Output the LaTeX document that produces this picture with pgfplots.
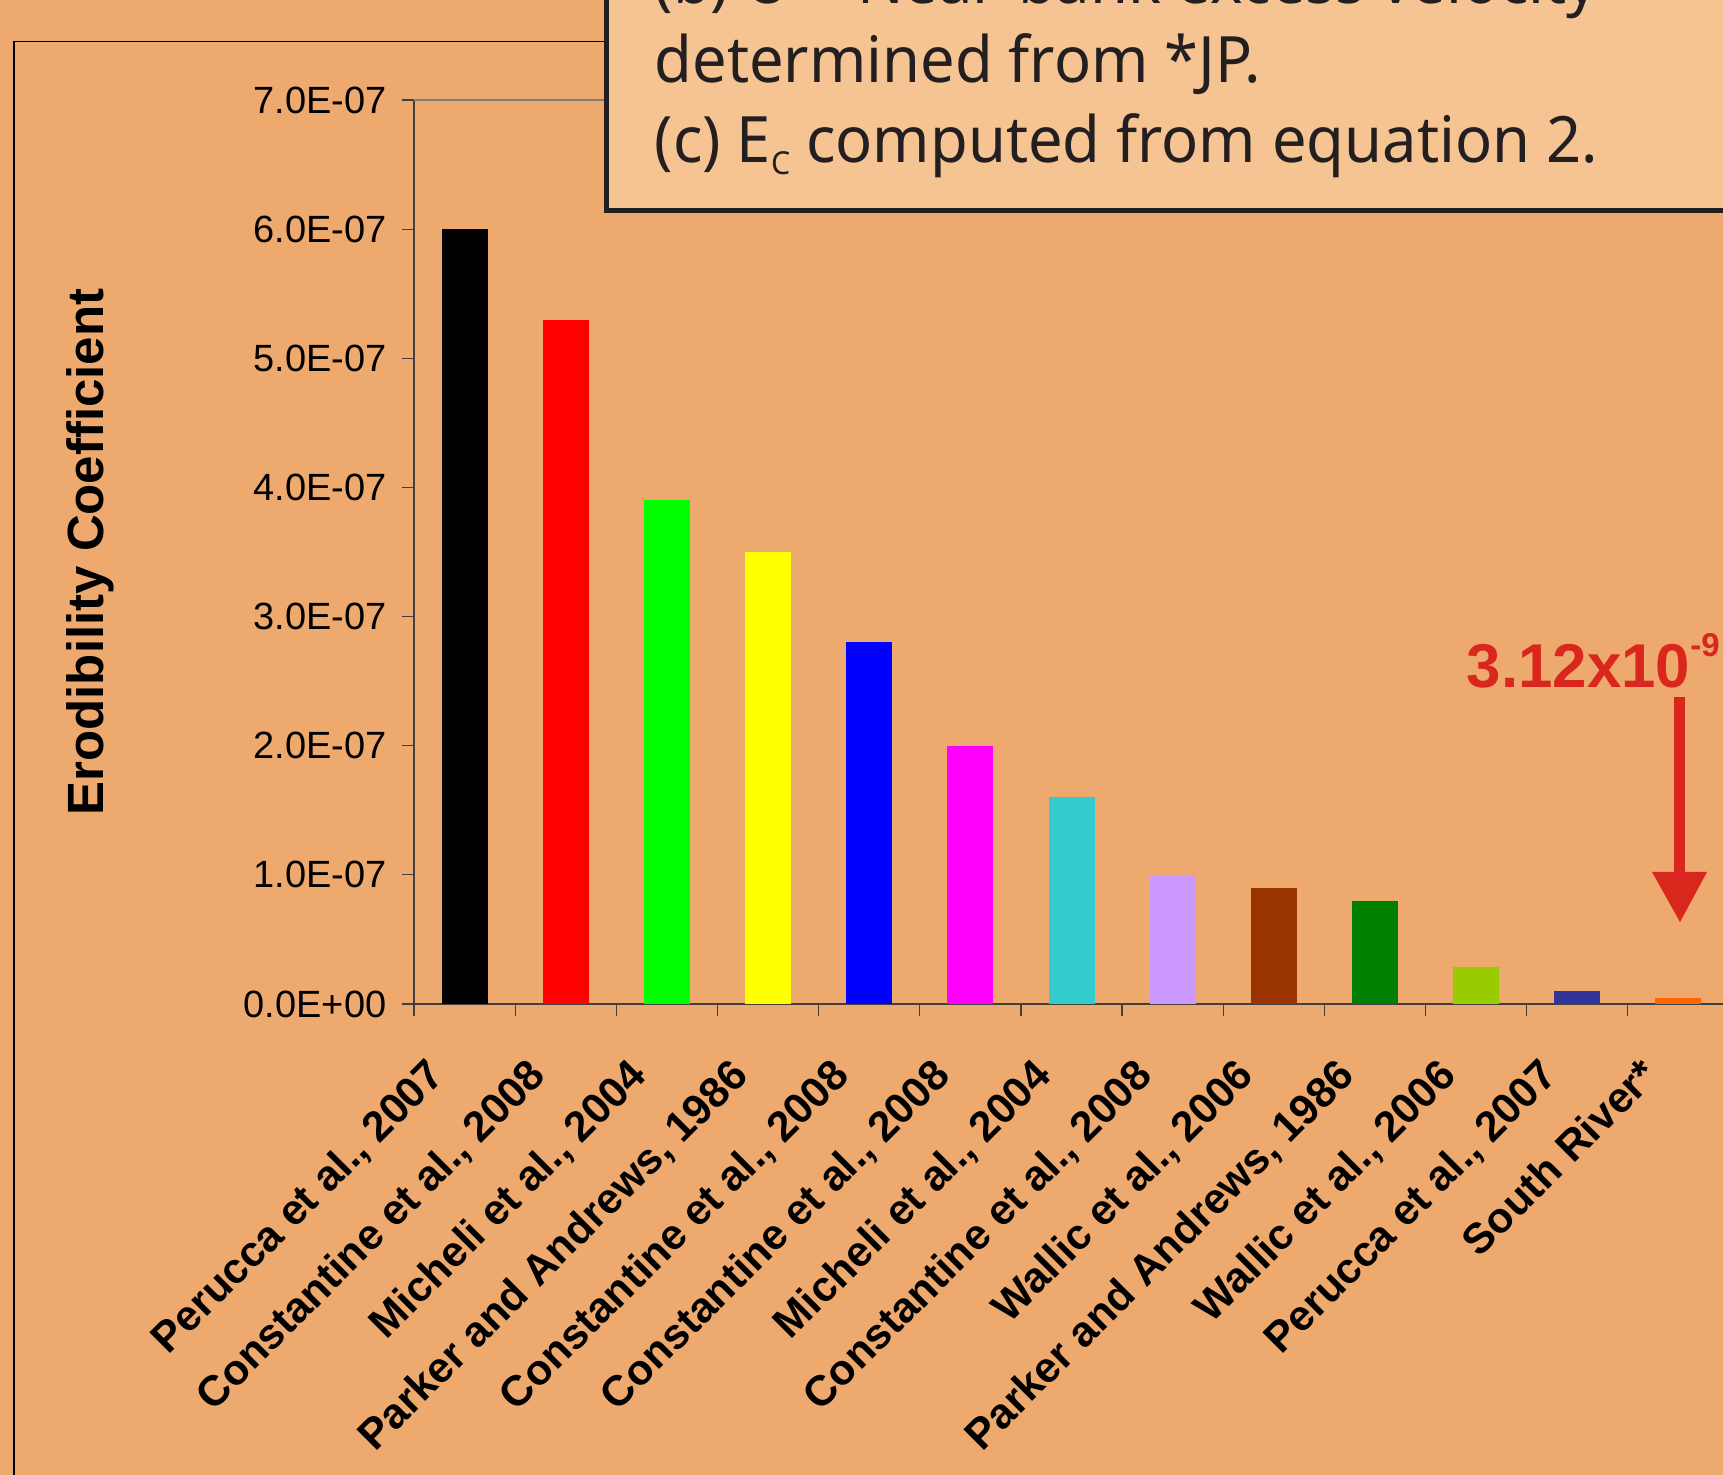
\documentclass[border=0pt]{standalone}
\usepackage{pgfplots}
\pgfplotsset{compat=1.18}
\usetikzlibrary{calc}
\usepackage{fontspec}
\setmainfont{Liberation Sans}
\newfontfamily\boxfont[FakeStretch=0.96]{Noto Sans}
\definecolor{bgcol}{RGB}{237,169,110}
\definecolor{boxfill}{RGB}{246,196,146}
\definecolor{boxline}{RGB}{35,31,32}
\definecolor{annred}{RGB}{217,39,30}
\definecolor{axisgray}{RGB}{64,64,64}
\definecolor{topgray}{RGB}{128,128,128}
\definecolor{cA}{RGB}{0,0,0}
\definecolor{cB}{RGB}{255,0,0}
\definecolor{cC}{RGB}{0,255,0}
\definecolor{cD}{RGB}{255,255,0}
\definecolor{cE}{RGB}{0,0,255}
\definecolor{cF}{RGB}{255,0,255}
\definecolor{cG}{RGB}{51,204,204}
\definecolor{cH}{RGB}{204,153,255}
\definecolor{cI}{RGB}{153,51,0}
\definecolor{cJ}{RGB}{0,128,0}
\definecolor{cK}{RGB}{153,204,0}
\definecolor{cL}{RGB}{51,51,153}
\definecolor{cM}{RGB}{255,102,0}
\newcommand{\xlab}{\fontsize{12.1}{14}\selectfont\bfseries}
\begin{document}
\begin{tikzpicture}
\useasboundingbox (0,0) rectangle (172.3mm,147.5mm);
\clip (0,0) rectangle (172.3mm,147.5mm);
\fill[bgcol] (0,0) rectangle (172.3mm,147.5mm);
% chart area frame
\draw[black, line width=0.15mm] (1.4mm,0) -- (1.4mm,143.33mm) -- (62mm,143.33mm);
\begin{axis}[
  at={(41.4mm,47.1mm)}, anchor=south west,
  scale only axis, width=131.5mm, height=90.4mm,
  xmin=-0.5, xmax=12.5, ymin=0, ymax=7e-7,
  axis x line*=bottom, axis y line*=left,
  x axis line style={draw=axisgray, line width=0.2mm},
  y axis line style={draw=axisgray, line width=0.15mm},
  xtick={-0.5,0.5,1.5,2.5,3.5,4.5,5.5,6.5,7.5,8.5,9.5,10.5,11.5,12.5},
  xticklabels={},
  ytick={0,1e-7,2e-7,3e-7,4e-7,5e-7,6e-7,7e-7},
  yticklabels={0.0E+00,1.0E-07,2.0E-07,3.0E-07,4.0E-07,5.0E-07,6.0E-07,7.0E-07},
  scaled y ticks=false,
  yticklabel style={font=\fontsize{10.8}{13}\selectfont, inner sep=0pt, anchor=east, xshift=-1.5mm},
  tick align=outside, major tick length=1.2mm,
  tick style={draw=axisgray, line width=0.12mm},
  ybar, bar width=4.6mm, bar shift=0pt,
  clip=false,
]
\draw[topgray, line width=0.2mm] (rel axis cs:0,1) -- (rel axis cs:1,1);
\addplot[fill=cA, draw=none] coordinates {(0,6.0e-7)};
\addplot[fill=cB, draw=none] coordinates {(1,5.3e-7)};
\addplot[fill=cC, draw=none] coordinates {(2,3.9e-7)};
\addplot[fill=cD, draw=none] coordinates {(3,3.5e-7)};
\addplot[fill=cE, draw=none] coordinates {(4,2.8e-7)};
\addplot[fill=cF, draw=none] coordinates {(5,2.0e-7)};
\addplot[fill=cG, draw=none] coordinates {(6,1.6e-7)};
\addplot[fill=cH, draw=none] coordinates {(7,1.0e-7)};
\addplot[fill=cI, draw=none] coordinates {(8,0.9e-7)};
\addplot[fill=cJ, draw=none] coordinates {(9,0.8e-7)};
\addplot[fill=cK, draw=none] coordinates {(10,2.9e-8)};
\addplot[fill=cL, draw=none] coordinates {(11,1.0e-8)};
\addplot[fill=cM, draw=none] coordinates {(12,4.8e-9)};
\node[rotate=45, anchor=north east, inner sep=0pt, font=\xlab] at ($(axis cs:0,0)+(-4.0mm,-5.1mm)$) {Perucca et al., 2007};
\node[rotate=45, anchor=north east, inner sep=0pt, font=\xlab] at ($(axis cs:1,0)+(-4.0mm,-5.1mm)$) {Constantine et al., 2008};
\node[rotate=45, anchor=north east, inner sep=0pt, font=\xlab] at ($(axis cs:2,0)+(-4.0mm,-5.1mm)$) {Micheli et al., 2004};
\node[rotate=45, anchor=north east, inner sep=0pt, font=\xlab] at ($(axis cs:3,0)+(-4.0mm,-5.1mm)$) {Parker and Andrews, 1986};
\node[rotate=45, anchor=north east, inner sep=0pt, font=\xlab] at ($(axis cs:4,0)+(-4.0mm,-5.1mm)$) {Constantine et al., 2008};
\node[rotate=45, anchor=north east, inner sep=0pt, font=\xlab] at ($(axis cs:5,0)+(-4.0mm,-5.1mm)$) {Constantine et al., 2008};
\node[rotate=45, anchor=north east, inner sep=0pt, font=\xlab] at ($(axis cs:6,0)+(-4.0mm,-5.1mm)$) {Micheli et al., 2004};
\node[rotate=45, anchor=north east, inner sep=0pt, font=\xlab] at ($(axis cs:7,0)+(-4.0mm,-5.1mm)$) {Constantine et al., 2008};
\node[rotate=45, anchor=north east, inner sep=0pt, font=\xlab] at ($(axis cs:8,0)+(-4.0mm,-5.1mm)$) {Wallic et al., 2006};
\node[rotate=45, anchor=north east, inner sep=0pt, font=\xlab] at ($(axis cs:9,0)+(-4.0mm,-5.1mm)$) {Parker and Andrews, 1986};
\node[rotate=45, anchor=north east, inner sep=0pt, font=\xlab] at ($(axis cs:10,0)+(-4.0mm,-5.1mm)$) {Wallic et al., 2006};
\node[rotate=45, anchor=north east, inner sep=0pt, font=\xlab] at ($(axis cs:11,0)+(-4.0mm,-5.1mm)$) {Perucca et al., 2007};
\node[rotate=45, anchor=north east, inner sep=0pt, font=\xlab] at ($(axis cs:12,0)+(-4.0mm,-5.1mm)$) {South River*};
\end{axis}
% y label
\node[rotate=90, anchor=base, inner sep=0pt, font=\fontsize{14.5}{16}\selectfont\bfseries] at (10.3mm,92.3mm) {Erodibility Coefficient};
% annotation
\node[anchor=base west, inner sep=0pt, text=annred, font=\fontsize{17.6}{20}\selectfont\bfseries] at (146.6mm,78.7mm) {3.12x10\raisebox{3.1mm}{\fontsize{9.4}{10}\selectfont -9}};
\fill[annred] (167.4mm,77.8mm) rectangle (168.5mm,60.2mm);
\fill[annred] (165.2mm,60.3mm) -- (170.7mm,60.3mm) -- (168.0mm,55.3mm) -- cycle;
% text box
\draw[line width=0.5mm, draw=boxline, fill=boxfill] (60.65mm,126.45mm) rectangle (180mm,152mm);
\node[anchor=base west, inner sep=0pt, font=\boxfont\fontsize{18.2}{22}\selectfont, text=boxline] at (65.4mm,147.1mm) {(b) U = Near-bank excess velocity};
\node[anchor=base west, inner sep=0pt, font=\boxfont\fontsize{18.2}{22}\selectfont, text=boxline] at (65.4mm,139.2mm) {determined from *JP.};
\node[anchor=base west, inner sep=0pt, font=\boxfont\fontsize{18.2}{22}\selectfont, text=boxline] at (65.4mm,131.2mm) {(c) E\raisebox{-1.2mm}{\fontsize{9}{9}\selectfont C} computed from equation 2.};
\end{tikzpicture}
\end{document}
